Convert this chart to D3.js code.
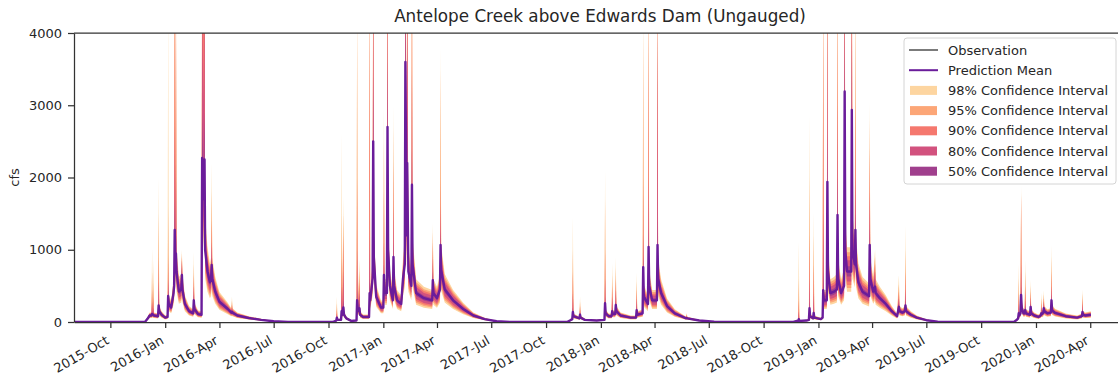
<!DOCTYPE html>
<html>
<head>
<meta charset="utf-8">
<script src="https://cdn.jsdelivr.net/npm/d3@7"></script>
<style>
  body { margin: 0; background: #fff; }
  svg { font-family: "DejaVu Sans", sans-serif; }
</style>
</head>
<body>
<svg id="chart" width="1118" height="381"></svg>
<script>
const chartTitle = "Antelope Creek above Edwards Dam (Ungauged)";
const yLabel = "cfs";
const yTicks = [0, 1000, 2000, 3000, 4000];
const xTickDates = ["2015-10-01", "2016-01-01", "2016-04-01", "2016-07-01", "2016-10-01",
  "2017-01-01", "2017-04-01", "2017-07-01", "2017-10-01", "2018-01-01", "2018-04-01",
  "2018-07-01", "2018-10-01", "2019-01-01", "2019-04-01", "2019-07-01", "2019-10-01",
  "2020-01-01", "2020-04-01"];
const xDomain = ["2015-08-01", "2020-05-31"];

const legendLabels = ["Observation", "Prediction Mean", "98% Confidence Interval",
  "95% Confidence Interval", "90% Confidence Interval", "80% Confidence Interval",
  "50% Confidence Interval"];
const bandColors = ["#fdd5a0", "#fca677", "#f5786e", "#d2527e", "#a03f8d"];
const meanColor = "#6a1c9a";
const obsColor = "#222";

// each row: date, mean, lo98, lo95, lo90, lo80, lo50, hi50, hi80, hi90, hi95, hi98
const wy2016 = [
  ["2015-08-01", 0, 0, 0, 0, 0, 0, 0, 0, 0, 0, 0],
  ["2015-11-28", 0, 0, 0, 0, 0, 0, 0, 0, 0, 0, 0],
  ["2015-12-02", 40, 24, 27, 29, 32, 36, 44, 49, 52, 55, 59],
  ["2015-12-06", 90, 54, 60, 66, 72, 81, 99, 110, 117, 124, 133],
  ["2015-12-09", 90, 54, 60, 66, 72, 81, 99, 110, 117, 124, 133],
  ["2015-12-10", 110, 66, 74, 80, 88, 99, 150, 280, 450, 700, 1025],
  ["2015-12-11", 100, 60, 67, 73, 80, 90, 110, 122, 130, 138, 148],
  ["2015-12-12", 100, 60, 67, 73, 80, 90, 130, 200, 350, 550, 860],
  ["2015-12-13", 90, 54, 60, 66, 72, 81, 99, 110, 117, 124, 133],
  ["2015-12-20", 80, 48, 54, 58, 64, 72, 88, 98, 104, 110, 118],
  ["2015-12-21", 230, 138, 154, 168, 184, 207, 320, 550, 900, 1500, 2000],
  ["2015-12-22", 150, 90, 101, 110, 120, 135, 165, 183, 195, 207, 222],
  ["2015-12-26", 100, 60, 67, 73, 80, 90, 110, 122, 130, 138, 148],
  ["2016-01-01", 60, 36, 40, 44, 48, 54, 66, 73, 78, 83, 89],
  ["2016-01-05", 70, 42, 47, 51, 56, 63, 77, 85, 91, 97, 104],
  ["2016-01-06", 360, 216, 241, 263, 288, 324, 450, 600, 900, 1600, 4500],
  ["2016-01-07", 250, 150, 168, 183, 200, 225, 275, 305, 325, 345, 370],
  ["2016-01-11", 200, 120, 134, 146, 160, 180, 220, 244, 260, 276, 296],
  ["2016-01-15", 400, 240, 268, 292, 320, 360, 440, 488, 520, 552, 592],
  ["2016-01-16", 500, 300, 335, 365, 400, 450, 550, 610, 650, 690, 740],
  ["2016-01-17", 1275, 765, 854, 931, 1020, 1148, 1700, 2800, 5000, 5500, 6000],
  ["2016-01-18", 800, 480, 536, 584, 640, 720, 880, 976, 1040, 1104, 1184],
  ["2016-01-19", 950, 570, 637, 694, 760, 855, 1300, 2200, 4500, 4800, 5000],
  ["2016-01-20", 700, 420, 469, 511, 560, 630, 770, 854, 910, 966, 1036],
  ["2016-01-24", 420, 252, 281, 307, 336, 378, 462, 512, 546, 580, 622],
  ["2016-01-28", 450, 270, 302, 329, 360, 405, 495, 549, 585, 621, 666],
  ["2016-01-29", 650, 390, 436, 475, 520, 585, 750, 850, 900, 950, 1000],
  ["2016-01-30", 450, 270, 302, 329, 360, 405, 495, 549, 585, 621, 666],
  ["2016-02-03", 250, 150, 168, 183, 200, 225, 275, 305, 325, 345, 370],
  ["2016-02-10", 150, 90, 101, 110, 120, 135, 165, 183, 195, 207, 222],
  ["2016-02-17", 120, 72, 80, 88, 96, 108, 132, 146, 156, 166, 178],
  ["2016-02-18", 300, 180, 201, 219, 240, 270, 380, 500, 650, 800, 970],
  ["2016-02-19", 180, 108, 121, 131, 144, 162, 198, 220, 234, 248, 266],
  ["2016-02-25", 110, 66, 74, 80, 88, 99, 121, 134, 143, 152, 163],
  ["2016-03-02", 100, 60, 67, 73, 80, 90, 110, 122, 130, 138, 148],
  ["2016-03-03", 2270, 1362, 1521, 1657, 1816, 2043, 2900, 4500, 5500, 5800, 6000],
  ["2016-03-05", 1700, 1020, 1139, 1241, 1360, 1530, 2100, 3000, 4500, 5000, 5500],
  ["2016-03-07", 2250, 1350, 1508, 1643, 1800, 2025, 2900, 4500, 5500, 5800, 6000],
  ["2016-03-08", 1000, 600, 670, 730, 800, 900, 1100, 1220, 1300, 1380, 1480],
  ["2016-03-12", 700, 420, 469, 511, 560, 630, 770, 854, 910, 966, 1036],
  ["2016-03-16", 550, 330, 369, 402, 440, 495, 605, 671, 715, 759, 814],
  ["2016-03-18", 600, 360, 402, 438, 480, 540, 660, 732, 780, 828, 888],
  ["2016-03-19", 790, 474, 529, 577, 632, 711, 900, 1100, 1400, 1800, 2200],
  ["2016-03-20", 600, 360, 402, 438, 480, 540, 660, 732, 780, 828, 888],
  ["2016-03-25", 420, 252, 281, 307, 336, 378, 462, 512, 546, 580, 622],
  ["2016-04-01", 280, 168, 188, 204, 224, 252, 308, 342, 364, 386, 414],
  ["2016-04-15", 180, 108, 121, 131, 144, 162, 198, 220, 234, 248, 266],
  ["2016-04-21", 130, 78, 87, 95, 104, 117, 143, 159, 169, 179, 192],
  ["2016-04-22", 140, 84, 94, 102, 112, 126, 165, 200, 240, 290, 350],
  ["2016-04-23", 130, 78, 87, 95, 104, 117, 143, 159, 169, 179, 192],
  ["2016-05-01", 90, 54, 60, 66, 72, 81, 99, 110, 117, 124, 133],
  ["2016-05-20", 55, 33, 37, 40, 44, 50, 61, 67, 72, 76, 81],
  ["2016-06-10", 30, 18, 20, 22, 24, 27, 33, 37, 39, 41, 44],
  ["2016-07-01", 10, 6, 7, 7, 8, 9, 11, 12, 13, 14, 15],
  ["2016-07-25", 0, 0, 0, 0, 0, 0, 0, 0, 0, 0, 0]
];

const wy2017 = [
  ["2016-10-08", 0, 0, 0, 0, 0, 0, 0, 0, 0, 0, 0],
  ["2016-10-14", 20, 12, 13, 15, 16, 18, 22, 24, 26, 28, 30],
  ["2016-10-15", 60, 36, 40, 44, 48, 54, 80, 120, 180, 260, 350],
  ["2016-10-16", 30, 18, 20, 22, 24, 27, 33, 37, 39, 41, 44],
  ["2016-10-22", 30, 18, 20, 22, 24, 27, 33, 37, 39, 41, 44],
  ["2016-10-23", 150, 90, 101, 110, 120, 135, 220, 500, 900, 1500, 2620],
  ["2016-10-24", 100, 60, 67, 73, 80, 90, 110, 122, 130, 138, 148],
  ["2016-10-26", 200, 120, 134, 146, 160, 180, 300, 700, 1200, 1500, 1735],
  ["2016-10-27", 100, 60, 67, 73, 80, 90, 110, 122, 130, 138, 148],
  ["2016-10-31", 50, 30, 34, 37, 40, 45, 55, 61, 65, 69, 74],
  ["2016-11-08", 15, 9, 10, 11, 12, 14, 17, 18, 20, 21, 22],
  ["2016-11-17", 20, 12, 13, 15, 16, 18, 22, 24, 26, 28, 30],
  ["2016-11-18", 300, 180, 201, 219, 240, 270, 450, 1000, 2000, 4200, 4500],
  ["2016-11-19", 150, 90, 101, 110, 120, 135, 165, 183, 195, 207, 222],
  ["2016-11-22", 190, 114, 127, 139, 152, 171, 260, 400, 550, 700, 860],
  ["2016-11-23", 100, 60, 67, 73, 80, 90, 110, 122, 130, 138, 148],
  ["2016-11-28", 70, 42, 47, 51, 56, 63, 77, 85, 91, 97, 104],
  ["2016-12-08", 70, 42, 47, 51, 56, 63, 77, 85, 91, 97, 104],
  ["2016-12-09", 400, 240, 268, 292, 320, 360, 600, 1200, 4500, 4800, 5000],
  ["2016-12-10", 300, 180, 201, 219, 240, 270, 330, 366, 390, 414, 444],
  ["2016-12-14", 600, 360, 402, 438, 480, 540, 660, 732, 780, 828, 888],
  ["2016-12-15", 2500, 1500, 1675, 1825, 2000, 2250, 3400, 5000, 5500, 5800, 6000],
  ["2016-12-16", 900, 540, 603, 657, 720, 810, 990, 1098, 1170, 1242, 1332],
  ["2016-12-20", 350, 210, 235, 256, 280, 315, 385, 427, 455, 483, 518],
  ["2016-12-28", 200, 120, 134, 146, 160, 180, 220, 244, 260, 276, 296],
  ["2017-01-01", 200, 120, 134, 146, 160, 180, 220, 244, 260, 276, 296],
  ["2017-01-02", 650, 390, 436, 475, 520, 585, 800, 1100, 1800, 2500, 2980],
  ["2017-01-03", 400, 240, 268, 292, 320, 360, 440, 488, 520, 552, 592],
  ["2017-01-07", 400, 240, 268, 292, 320, 360, 440, 488, 520, 552, 592],
  ["2017-01-08", 2700, 1620, 1809, 1971, 2160, 2430, 3600, 5000, 5500, 5800, 6000],
  ["2017-01-09", 1000, 600, 670, 730, 800, 900, 1100, 1220, 1300, 1380, 1480],
  ["2017-01-12", 500, 300, 335, 365, 400, 450, 550, 610, 650, 690, 740],
  ["2017-01-17", 300, 180, 201, 219, 240, 270, 330, 366, 390, 414, 444],
  ["2017-01-18", 900, 540, 603, 657, 720, 810, 1100, 1600, 2200, 2700, 3000],
  ["2017-01-19", 500, 300, 335, 365, 400, 450, 550, 610, 650, 690, 740],
  ["2017-01-24", 300, 180, 201, 219, 240, 270, 330, 366, 390, 414, 444],
  ["2017-01-31", 250, 150, 168, 183, 200, 225, 275, 305, 325, 345, 370],
  ["2017-02-03", 600, 360, 402, 438, 480, 540, 660, 732, 780, 828, 888],
  ["2017-02-06", 800, 480, 536, 584, 640, 720, 880, 976, 1040, 1104, 1184],
  ["2017-02-07", 3600, 2160, 2412, 2628, 2880, 3240, 4500, 5500, 6000, 6000, 6500],
  ["2017-02-09", 1200, 720, 804, 876, 960, 1080, 1320, 1464, 1560, 1656, 1776],
  ["2017-02-10", 2200, 1320, 1474, 1606, 1760, 1980, 3000, 4500, 5000, 5500, 6000],
  ["2017-02-12", 700, 420, 469, 511, 560, 630, 770, 854, 910, 966, 1036],
  ["2017-02-17", 500, 300, 335, 365, 400, 450, 550, 610, 650, 690, 740],
  ["2017-02-18", 1900, 1140, 1273, 1387, 1520, 1710, 2400, 3500, 5000, 5500, 6000],
  ["2017-02-19", 800, 480, 536, 584, 640, 720, 880, 976, 1040, 1104, 1184],
  ["2017-02-25", 400, 240, 268, 292, 320, 360, 440, 488, 520, 552, 592],
  ["2017-03-10", 330, 198, 221, 241, 264, 297, 363, 403, 429, 455, 488],
  ["2017-03-24", 300, 180, 201, 219, 240, 270, 330, 366, 390, 414, 444],
  ["2017-03-25", 580, 348, 389, 423, 464, 522, 700, 900, 1100, 1250, 1370],
  ["2017-03-26", 400, 240, 268, 292, 320, 360, 440, 488, 520, 552, 592],
  ["2017-04-01", 330, 198, 221, 241, 264, 297, 363, 403, 429, 455, 488],
  ["2017-04-06", 450, 270, 302, 329, 360, 405, 495, 549, 585, 621, 666],
  ["2017-04-07", 1065, 639, 714, 777, 852, 959, 1250, 1600, 2000, 3500, 3800],
  ["2017-04-08", 720, 432, 482, 526, 576, 648, 792, 878, 936, 994, 1066],
  ["2017-04-14", 450, 270, 302, 329, 360, 405, 495, 549, 585, 621, 666],
  ["2017-04-28", 300, 180, 201, 219, 240, 270, 330, 366, 390, 414, 444],
  ["2017-05-15", 180, 108, 121, 131, 144, 162, 198, 220, 234, 248, 266],
  ["2017-06-01", 90, 54, 60, 66, 72, 81, 99, 110, 117, 124, 133],
  ["2017-06-20", 40, 24, 27, 29, 32, 36, 44, 49, 52, 55, 59],
  ["2017-07-10", 10, 6, 7, 7, 8, 9, 11, 12, 13, 14, 15],
  ["2017-08-01", 0, 0, 0, 0, 0, 0, 0, 0, 0, 0, 0]
];

const wy2018 = [
  ["2017-11-05", 0, 0, 0, 0, 0, 0, 0, 0, 0, 0, 0],
  ["2017-11-10", 20, 12, 13, 15, 16, 18, 22, 24, 26, 28, 30],
  ["2017-11-14", 40, 24, 27, 29, 32, 36, 44, 49, 52, 55, 59],
  ["2017-11-15", 140, 84, 94, 102, 112, 126, 200, 400, 700, 1000, 1455],
  ["2017-11-16", 80, 48, 54, 58, 64, 72, 88, 98, 104, 110, 118],
  ["2017-11-26", 50, 30, 34, 37, 40, 45, 55, 61, 65, 69, 74],
  ["2017-11-27", 100, 60, 67, 73, 80, 90, 130, 170, 220, 280, 350],
  ["2017-11-28", 60, 36, 40, 44, 48, 54, 66, 73, 78, 83, 89],
  ["2017-12-05", 30, 18, 20, 22, 24, 27, 33, 37, 39, 41, 44],
  ["2017-12-25", 20, 12, 13, 15, 16, 18, 22, 24, 26, 28, 30],
  ["2018-01-07", 30, 18, 20, 22, 24, 27, 33, 37, 39, 41, 44],
  ["2018-01-08", 260, 156, 174, 190, 208, 234, 350, 600, 1000, 1700, 2100],
  ["2018-01-09", 120, 72, 80, 88, 96, 108, 132, 146, 156, 166, 178],
  ["2018-01-14", 80, 48, 54, 58, 64, 72, 88, 98, 104, 110, 118],
  ["2018-01-19", 80, 48, 54, 58, 64, 72, 88, 98, 104, 110, 118],
  ["2018-01-20", 150, 90, 101, 110, 120, 135, 200, 350, 500, 650, 815],
  ["2018-01-21", 110, 66, 74, 80, 88, 99, 121, 134, 143, 152, 163],
  ["2018-01-25", 110, 66, 74, 80, 88, 99, 121, 134, 143, 152, 163],
  ["2018-01-26", 235, 141, 157, 172, 188, 212, 300, 450, 600, 750, 900],
  ["2018-01-27", 150, 90, 101, 110, 120, 135, 165, 183, 195, 207, 222],
  ["2018-02-03", 90, 54, 60, 66, 72, 81, 99, 110, 117, 124, 133],
  ["2018-02-20", 60, 36, 40, 44, 48, 54, 66, 73, 78, 83, 89],
  ["2018-03-01", 60, 36, 40, 44, 48, 54, 66, 73, 78, 83, 89],
  ["2018-03-02", 165, 99, 111, 120, 132, 149, 220, 330, 450, 560, 680],
  ["2018-03-03", 100, 60, 67, 73, 80, 90, 110, 122, 130, 138, 148],
  ["2018-03-12", 120, 72, 80, 88, 96, 108, 132, 146, 156, 166, 178],
  ["2018-03-13", 760, 456, 509, 555, 608, 684, 900, 1200, 2000, 4000, 4500],
  ["2018-03-14", 350, 210, 235, 256, 280, 315, 385, 427, 455, 483, 518],
  ["2018-03-21", 250, 150, 168, 183, 200, 225, 275, 305, 325, 345, 370],
  ["2018-03-22", 1040, 624, 697, 759, 832, 936, 1300, 2000, 4200, 4700, 5000],
  ["2018-03-23", 500, 300, 335, 365, 400, 450, 550, 610, 650, 690, 740],
  ["2018-03-28", 300, 180, 201, 219, 240, 270, 330, 366, 390, 414, 444],
  ["2018-04-05", 300, 180, 201, 219, 240, 270, 330, 366, 390, 414, 444],
  ["2018-04-06", 1065, 639, 714, 777, 852, 959, 1400, 4200, 4500, 4800, 5000],
  ["2018-04-07", 600, 360, 402, 438, 480, 540, 660, 732, 780, 828, 888],
  ["2018-04-12", 400, 240, 268, 292, 320, 360, 440, 488, 520, 552, 592],
  ["2018-04-22", 220, 132, 147, 161, 176, 198, 242, 268, 286, 304, 326],
  ["2018-05-05", 120, 72, 80, 88, 96, 108, 132, 146, 156, 166, 178],
  ["2018-05-24", 50, 30, 34, 37, 40, 45, 55, 61, 65, 69, 74],
  ["2018-05-25", 55, 33, 37, 40, 44, 50, 65, 80, 95, 110, 125],
  ["2018-05-26", 50, 30, 34, 37, 40, 45, 55, 61, 65, 69, 74],
  ["2018-06-15", 20, 12, 13, 15, 16, 18, 22, 24, 26, 28, 30],
  ["2018-07-10", 3, 2, 2, 2, 2, 3, 3, 4, 4, 4, 4],
  ["2018-07-25", 0, 0, 0, 0, 0, 0, 0, 0, 0, 0, 0]
];

const wy2019 = [
  ["2018-11-20", 0, 0, 0, 0, 0, 0, 0, 0, 0, 0, 0],
  ["2018-11-26", 15, 9, 10, 11, 12, 14, 17, 18, 20, 21, 22],
  ["2018-11-28", 15, 9, 10, 11, 12, 14, 17, 18, 20, 21, 22],
  ["2018-11-29", 40, 24, 27, 29, 32, 36, 60, 150, 300, 600, 1110],
  ["2018-11-30", 15, 9, 10, 11, 12, 14, 17, 18, 20, 21, 22],
  ["2018-12-12", 20, 12, 13, 15, 16, 18, 22, 24, 26, 28, 30],
  ["2018-12-16", 30, 18, 20, 22, 24, 27, 33, 37, 39, 41, 44],
  ["2018-12-17", 190, 114, 127, 139, 152, 171, 280, 600, 1200, 2000, 2870],
  ["2018-12-18", 80, 48, 54, 58, 64, 72, 88, 98, 104, 110, 118],
  ["2018-12-23", 50, 30, 34, 37, 40, 45, 55, 61, 65, 69, 74],
  ["2018-12-24", 125, 75, 84, 91, 100, 113, 180, 400, 800, 1200, 1520],
  ["2018-12-25", 60, 36, 40, 44, 48, 54, 66, 73, 78, 83, 89],
  ["2019-01-05", 40, 24, 27, 29, 32, 36, 44, 49, 52, 55, 59],
  ["2019-01-08", 60, 36, 40, 44, 48, 54, 66, 73, 78, 83, 89],
  ["2019-01-09", 440, 264, 295, 321, 352, 396, 700, 1500, 4300, 4700, 5000],
  ["2019-01-10", 300, 180, 201, 219, 240, 270, 330, 366, 390, 414, 444],
  ["2019-01-15", 300, 180, 201, 219, 240, 270, 330, 366, 390, 414, 444],
  ["2019-01-16", 1940, 1164, 1300, 1416, 1552, 1746, 2600, 4500, 5000, 5500, 6000],
  ["2019-01-17", 700, 420, 469, 511, 560, 630, 770, 854, 910, 966, 1036],
  ["2019-01-21", 400, 240, 268, 292, 320, 360, 440, 488, 520, 552, 592],
  ["2019-01-27", 420, 252, 281, 307, 336, 378, 462, 512, 546, 580, 622],
  ["2019-02-01", 450, 270, 302, 329, 360, 405, 495, 549, 585, 621, 666],
  ["2019-02-02", 1480, 888, 992, 1080, 1184, 1332, 2000, 3000, 4500, 5000, 5500],
  ["2019-02-03", 600, 360, 402, 438, 480, 540, 660, 732, 780, 828, 888],
  ["2019-02-08", 400, 240, 268, 292, 320, 360, 440, 488, 520, 552, 592],
  ["2019-02-13", 500, 300, 335, 365, 400, 450, 550, 610, 650, 690, 740],
  ["2019-02-14", 3190, 1914, 2137, 2329, 2552, 2871, 4200, 5500, 6000, 6000, 6500],
  ["2019-02-15", 1000, 600, 670, 730, 800, 900, 1100, 1220, 1300, 1380, 1480],
  ["2019-02-18", 700, 420, 469, 511, 560, 630, 770, 854, 910, 966, 1036],
  ["2019-02-25", 700, 420, 469, 511, 560, 630, 770, 854, 910, 966, 1036],
  ["2019-02-26", 2935, 1761, 1966, 2143, 2348, 2642, 3900, 5000, 5500, 6000, 6500],
  ["2019-02-27", 1000, 600, 670, 730, 800, 900, 1100, 1220, 1300, 1380, 1480],
  ["2019-03-03", 800, 480, 536, 584, 640, 720, 880, 976, 1040, 1104, 1184],
  ["2019-03-04", 1275, 765, 854, 931, 1020, 1148, 1500, 2000, 3000, 4500, 5000],
  ["2019-03-05", 800, 480, 536, 584, 640, 720, 880, 976, 1040, 1104, 1184],
  ["2019-03-09", 550, 330, 369, 402, 440, 495, 605, 671, 715, 759, 814],
  ["2019-03-16", 420, 252, 281, 307, 336, 378, 462, 512, 546, 580, 622],
  ["2019-03-27", 360, 216, 241, 263, 288, 324, 396, 439, 468, 497, 533],
  ["2019-03-28", 1065, 639, 714, 777, 852, 959, 1300, 1800, 2400, 2800, 3050],
  ["2019-03-29", 600, 360, 402, 438, 480, 540, 660, 732, 780, 828, 888],
  ["2019-04-03", 420, 252, 281, 307, 336, 378, 462, 512, 546, 580, 622],
  ["2019-04-06", 490, 294, 328, 358, 392, 441, 600, 700, 800, 900, 1000],
  ["2019-04-07", 400, 240, 268, 292, 320, 360, 440, 488, 520, 552, 592],
  ["2019-04-14", 330, 198, 221, 241, 264, 297, 363, 403, 429, 455, 488],
  ["2019-04-24", 250, 150, 168, 183, 200, 225, 275, 305, 325, 345, 370],
  ["2019-05-04", 150, 90, 101, 110, 120, 135, 165, 183, 195, 207, 222],
  ["2019-05-13", 80, 48, 54, 58, 64, 72, 88, 98, 104, 110, 118],
  ["2019-05-16", 210, 126, 141, 153, 168, 189, 260, 330, 420, 520, 650],
  ["2019-05-17", 150, 90, 101, 110, 120, 135, 165, 183, 195, 207, 222],
  ["2019-05-22", 130, 78, 87, 95, 104, 117, 143, 159, 169, 179, 192],
  ["2019-05-26", 150, 90, 101, 110, 120, 135, 165, 183, 195, 207, 222],
  ["2019-05-27", 230, 138, 154, 168, 184, 207, 300, 450, 700, 1000, 1340],
  ["2019-05-28", 150, 90, 101, 110, 120, 135, 165, 183, 195, 207, 222],
  ["2019-06-05", 100, 60, 67, 73, 80, 90, 110, 122, 130, 138, 148],
  ["2019-06-15", 60, 36, 40, 44, 48, 54, 66, 73, 78, 83, 89],
  ["2019-07-01", 25, 15, 17, 18, 20, 23, 28, 31, 33, 35, 37],
  ["2019-07-20", 5, 3, 3, 4, 4, 5, 6, 6, 7, 7, 7],
  ["2019-08-10", 0, 0, 0, 0, 0, 0, 0, 0, 0, 0, 0]
];

const wy2020 = [
  ["2019-11-25", 0, 0, 0, 0, 0, 0, 0, 0, 0, 0, 0],
  ["2019-11-30", 30, 18, 20, 22, 24, 27, 33, 37, 39, 41, 44],
  ["2019-12-02", 50, 30, 34, 37, 40, 45, 55, 61, 65, 69, 74],
  ["2019-12-03", 120, 72, 80, 88, 96, 108, 160, 250, 400, 600, 800],
  ["2019-12-04", 90, 54, 60, 66, 72, 81, 99, 110, 117, 124, 133],
  ["2019-12-06", 120, 72, 80, 88, 96, 108, 132, 146, 156, 166, 178],
  ["2019-12-07", 375, 225, 251, 274, 300, 338, 500, 800, 1750, 1800, 1900],
  ["2019-12-08", 200, 120, 134, 146, 160, 180, 220, 244, 260, 276, 296],
  ["2019-12-11", 120, 72, 80, 88, 96, 108, 132, 146, 156, 166, 178],
  ["2019-12-13", 120, 72, 80, 88, 96, 108, 132, 146, 156, 166, 178],
  ["2019-12-14", 165, 99, 111, 120, 132, 149, 220, 300, 500, 700, 860],
  ["2019-12-15", 120, 72, 80, 88, 96, 108, 132, 146, 156, 166, 178],
  ["2019-12-22", 100, 60, 67, 73, 80, 90, 110, 122, 130, 138, 148],
  ["2019-12-23", 210, 126, 141, 153, 168, 189, 260, 340, 420, 500, 580],
  ["2019-12-24", 120, 72, 80, 88, 96, 108, 132, 146, 156, 166, 178],
  ["2019-12-29", 90, 54, 60, 66, 72, 81, 99, 110, 117, 124, 133],
  ["2020-01-05", 70, 42, 47, 51, 56, 63, 77, 85, 91, 97, 104],
  ["2020-01-09", 90, 54, 60, 66, 72, 81, 99, 110, 117, 124, 133],
  ["2020-01-10", 120, 72, 80, 88, 96, 108, 150, 200, 260, 330, 400],
  ["2020-01-11", 110, 66, 74, 80, 88, 99, 121, 134, 143, 152, 163],
  ["2020-01-13", 120, 72, 80, 88, 96, 108, 132, 146, 156, 166, 178],
  ["2020-01-14", 190, 114, 127, 139, 152, 171, 230, 280, 330, 380, 440],
  ["2020-01-15", 150, 90, 101, 110, 120, 135, 165, 183, 195, 207, 222],
  ["2020-01-20", 120, 72, 80, 88, 96, 108, 132, 146, 156, 166, 178],
  ["2020-01-26", 130, 78, 87, 95, 104, 117, 143, 159, 169, 179, 192],
  ["2020-01-27", 300, 180, 201, 219, 240, 270, 380, 500, 700, 900, 1065],
  ["2020-01-28", 160, 96, 107, 117, 128, 144, 176, 195, 208, 221, 237],
  ["2020-02-02", 125, 75, 84, 91, 100, 113, 138, 153, 163, 173, 185],
  ["2020-02-20", 80, 48, 54, 58, 64, 72, 88, 98, 104, 110, 118],
  ["2020-03-10", 60, 36, 40, 44, 48, 54, 66, 73, 78, 83, 89],
  ["2020-03-18", 80, 48, 54, 58, 64, 72, 88, 98, 104, 110, 118],
  ["2020-03-19", 140, 84, 94, 102, 112, 126, 180, 250, 320, 390, 450],
  ["2020-03-20", 100, 60, 67, 73, 80, 90, 110, 122, 130, 138, 148],
  ["2020-03-24", 90, 54, 60, 66, 72, 81, 99, 110, 117, 124, 133],
  ["2020-04-02", 100, 60, 67, 73, 80, 90, 110, 122, 130, 138, 148]
];

const parse = d3.timeParse("%Y-%m-%d");
const rows = [...wy2016, ...wy2017, ...wy2018, ...wy2019, ...wy2020]
  .map(r => ({ date: parse(r[0]), mean: r[1], v: r }));

const svg = d3.select("#chart");
const margin = { left: 74, top: 33, right: 1126, bottom: 322 };

const x = d3.scaleTime()
  .domain(xDomain.map(parse))
  .range([margin.left, margin.right]);
const y = d3.scaleLinear()
  .domain([0, 4000])
  .range([margin.bottom, margin.top]);

svg.append("defs").append("clipPath").attr("id", "plotclip")
  .append("rect")
  .attr("x", margin.left).attr("y", margin.top)
  .attr("width", margin.right - margin.left)
  .attr("height", margin.bottom - margin.top);

const plot = svg.append("g").attr("clip-path", "url(#plotclip)");

// bands: 98% first, 50% last
bandColors.forEach((color, i) => {
  const area = d3.area()
    .x(d => x(d.date))
    .y0(d => y(d.v[2 + i]))
    .y1(d => y(d.v[11 - i]));
  plot.append("path")
    .datum(rows)
    .attr("fill", color)
    .attr("d", area);
});

plot.append("path")
  .datum(rows)
  .attr("fill", "none")
  .attr("stroke", meanColor)
  .attr("stroke-width", 2.4)
  .attr("stroke-linejoin", "round")
  .attr("d", d3.line().x(d => x(d.date)).y(d => y(d.mean)));

// axes
const spine = "#333";
const yAxis = svg.append("g")
  .attr("transform", `translate(${margin.left},0)`)
  .call(d3.axisLeft(y).tickValues(yTicks).tickFormat(d3.format("d"))
    .tickSize(6).tickPadding(6).tickSizeOuter(0));

const xAxis = svg.append("g")
  .attr("transform", `translate(0,${margin.bottom})`)
  .call(d3.axisBottom(x)
    .tickValues(xTickDates.map(parse))
    .tickFormat(d3.timeFormat("%Y-%b"))
    .tickSize(6).tickSizeOuter(0));

[xAxis, yAxis].forEach(g => {
  g.select(".domain").attr("stroke", spine).attr("stroke-width", 1.25);
  g.selectAll(".tick line").attr("stroke", spine).attr("stroke-width", 1.25);
  g.selectAll("text").attr("fill", "#262626").style("font-size", "13px")
    .style("font-family", "DejaVu Sans, sans-serif");
});

xAxis.selectAll(".tick text")
  .attr("y", 0).attr("dy", 0)
  .attr("text-anchor", "end")
  .attr("transform", "translate(-1,21) rotate(-30)");

svg.append("line")
  .attr("x1", margin.left).attr("x2", margin.right)
  .attr("y1", margin.top).attr("y2", margin.top)
  .attr("stroke", spine).attr("stroke-width", 1.25);

svg.append("text")
  .attr("transform", `translate(19,${(margin.top + margin.bottom) / 2}) rotate(-90)`)
  .attr("text-anchor", "middle")
  .attr("fill", "#262626")
  .style("font-size", "13px")
  .text(yLabel);

svg.append("text")
  .attr("x", (margin.left + margin.right) / 2)
  .attr("y", 22)
  .attr("text-anchor", "middle")
  .attr("fill", "#262626")
  .style("font-size", "16.8px")
  .text(chartTitle);

// legend
const legend = svg.append("g").attr("transform", "translate(904,38)");
legend.append("rect")
  .attr("width", 212).attr("height", 146).attr("rx", 3)
  .attr("fill", "#fff").attr("fill-opacity", 0.8)
  .attr("stroke", "#d4d4d4");

legendLabels.forEach((label, i) => {
  const cy = 12 + i * 20.2;
  const item = legend.append("g").attr("transform", `translate(0,${cy})`);
  if (i < 2) {
    item.append("line")
      .attr("x1", 5).attr("x2", 34)
      .attr("stroke", i === 0 ? obsColor : meanColor)
      .attr("stroke-width", i === 0 ? 1.2 : 2);
  } else {
    item.append("rect")
      .attr("x", 6).attr("y", -4.5).attr("width", 27).attr("height", 9)
      .attr("fill", bandColors[i - 2]);
  }
  item.append("text")
    .attr("x", 44).attr("dy", "0.35em")
    .attr("fill", "#262626")
    .style("font-size", "13px")
    .text(label);
});
</script>
</body>
</html>
